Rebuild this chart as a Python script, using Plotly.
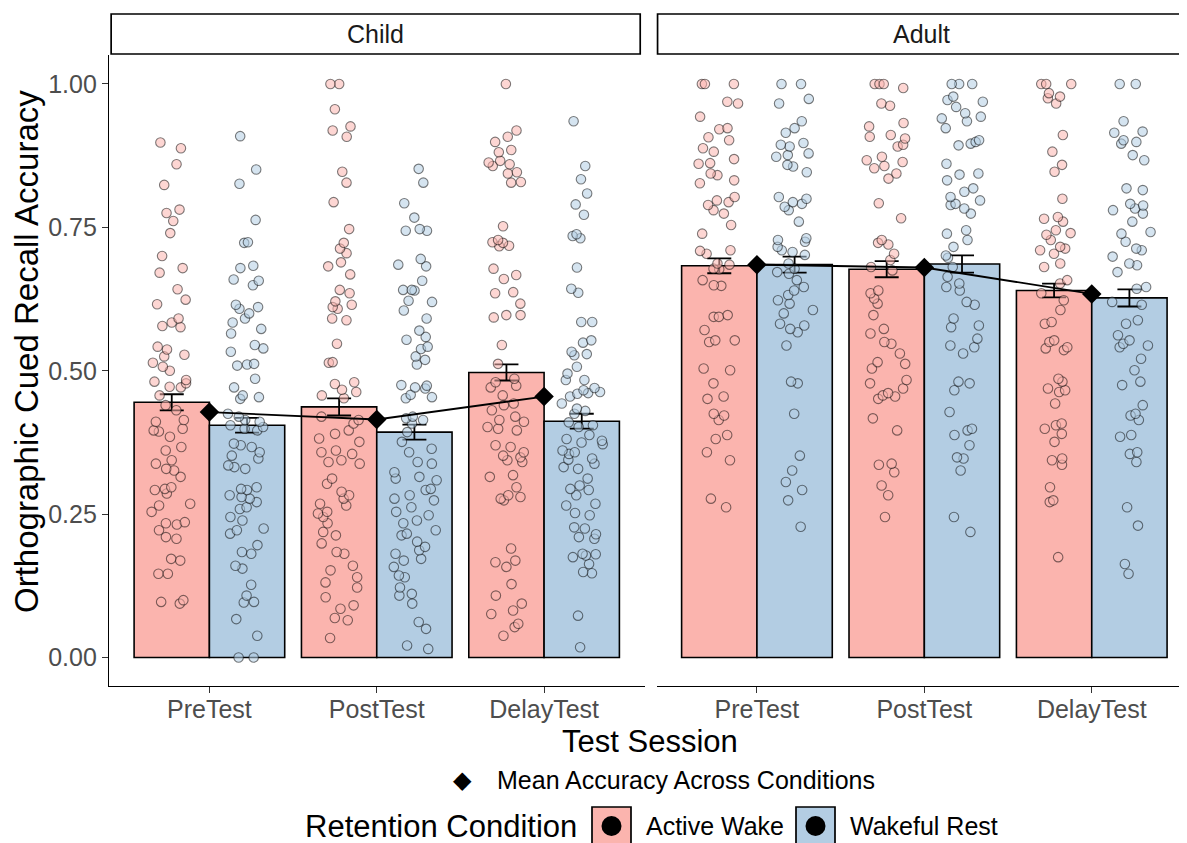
import plotly.graph_objects as go

# ---------------- data ----------------
sessions = ["PreTest", "PostTest", "DelayTest"]
tick_vals = [0.0, 0.25, 0.5, 0.75, 1.0]
tick_text = ["0.00", "0.25", "0.50", "0.75", "1.00"]

child_aw_mean = [0.445, 0.437, 0.497]
child_wr_mean = [0.405, 0.393, 0.412]
adult_aw_mean = [0.683, 0.677, 0.640]
adult_wr_mean = [0.685, 0.686, 0.627]

child_aw_se = [0.014, 0.015, 0.014]
child_wr_se = [0.013, 0.013, 0.013]
adult_aw_se = [0.013, 0.014, 0.012]
adult_wr_se = [0.014, 0.015, 0.015]

child_overall = [0.428, 0.415, 0.455]
adult_overall = [0.685, 0.680, 0.634]

child_pre_aw = [0.898, 0.888, 0.860, 0.824, 0.781, 0.775, 0.761, 0.740, 0.700, 0.679, 0.671, 0.642, 0.624,
                0.616, 0.591, 0.584, 0.578, 0.576, 0.542, 0.537, 0.528, 0.525, 0.514, 0.507, 0.500, 0.484,
                0.481, 0.478, 0.472, 0.471, 0.457, 0.440, 0.431, 0.414, 0.411, 0.399, 0.396, 0.394, 0.385,
                0.367, 0.361, 0.344, 0.338, 0.329, 0.326, 0.315, 0.297, 0.294, 0.292, 0.286, 0.268, 0.265,
                0.254, 0.236, 0.234, 0.232, 0.222, 0.210, 0.207, 0.172, 0.169, 0.146, 0.146, 0.100, 0.097, 0.094]
child_pre_wr = [0.909, 0.851, 0.826, 0.763, 0.724, 0.723, 0.683, 0.679, 0.659, 0.657, 0.649, 0.615, 0.611,
                0.608, 0.600, 0.591, 0.584, 0.573, 0.565, 0.545, 0.539, 0.533, 0.512, 0.511, 0.509, 0.486,
                0.471, 0.457, 0.454, 0.451, 0.425, 0.420, 0.414, 0.411, 0.405, 0.402, 0.399, 0.396, 0.373,
                0.370, 0.367, 0.358, 0.352, 0.347, 0.335, 0.332, 0.329, 0.297, 0.294, 0.292, 0.283, 0.280,
                0.277, 0.271, 0.262, 0.259, 0.245, 0.239, 0.225, 0.222, 0.216, 0.196, 0.184, 0.181, 0.160,
                0.155, 0.127, 0.108, 0.097, 0.096, 0.067, 0.038, 0.0, 0.0]
child_post_aw = [1.0, 1.0, 0.956, 0.926, 0.919, 0.908, 0.847, 0.828, 0.794, 0.747, 0.723, 0.713, 0.705,
                 0.689, 0.682, 0.668, 0.641, 0.635, 0.621, 0.615, 0.611, 0.608, 0.591, 0.588, 0.547, 0.515,
                 0.514, 0.480, 0.477, 0.467, 0.463, 0.457, 0.452, 0.420, 0.414, 0.408, 0.396, 0.390, 0.382,
                 0.376, 0.361, 0.358, 0.355, 0.344, 0.341, 0.338, 0.312, 0.303, 0.289, 0.283, 0.277, 0.268,
                 0.265, 0.254, 0.251, 0.245, 0.234, 0.219, 0.213, 0.199, 0.184, 0.181, 0.160, 0.152, 0.140,
                 0.131, 0.122, 0.105, 0.091, 0.085, 0.069, 0.065, 0.034]
child_post_wr = [0.852, 0.828, 0.792, 0.767, 0.747, 0.744, 0.744, 0.695, 0.685, 0.682, 0.657, 0.641, 0.641,
                 0.640, 0.622, 0.620, 0.605, 0.591, 0.570, 0.559, 0.554, 0.538, 0.542, 0.519, 0.525, 0.511,
                 0.471, 0.469, 0.474, 0.458, 0.475, 0.454, 0.452, 0.420, 0.417, 0.414, 0.408, 0.393, 0.376,
                 0.364, 0.358, 0.341, 0.338, 0.323, 0.315, 0.309, 0.312, 0.294, 0.292, 0.283, 0.277, 0.274,
                 0.262, 0.254, 0.248, 0.239, 0.234, 0.222, 0.216, 0.213, 0.202, 0.193, 0.187, 0.181, 0.172,
                 0.169, 0.158, 0.143, 0.140, 0.122, 0.111, 0.108, 0.094, 0.062, 0.050, 0.021, 0.015]
child_delay_aw = [1.0, 0.919, 0.908, 0.899, 0.885, 0.881, 0.866, 0.863, 0.860, 0.857, 0.846, 0.844, 0.829,
                  0.828, 0.752, 0.728, 0.724, 0.723, 0.718, 0.717, 0.678, 0.667, 0.660, 0.637, 0.635, 0.617,
                  0.597, 0.597, 0.593, 0.545, 0.512, 0.486, 0.480, 0.474, 0.471, 0.457, 0.443, 0.440, 0.431,
                  0.420, 0.414, 0.411, 0.402, 0.399, 0.396, 0.370, 0.367, 0.358, 0.352, 0.349, 0.344, 0.341,
                  0.318, 0.315, 0.297, 0.283, 0.280, 0.277, 0.274, 0.190, 0.169, 0.166, 0.158, 0.128, 0.108,
                  0.094, 0.082, 0.076, 0.059, 0.053, 0.038]
child_delay_wr = [0.935, 0.857, 0.834, 0.809, 0.790, 0.772, 0.738, 0.735, 0.731, 0.680, 0.643, 0.636, 0.585,
                  0.585, 0.553, 0.549, 0.533, 0.529, 0.527, 0.507, 0.495, 0.484, 0.484, 0.463, 0.461, 0.466,
                  0.460, 0.455, 0.443, 0.434, 0.430, 0.425, 0.405, 0.402, 0.388, 0.381, 0.378, 0.375, 0.361,
                  0.358, 0.355, 0.347, 0.338, 0.332, 0.329, 0.312, 0.294, 0.292, 0.283, 0.268, 0.265, 0.248,
                  0.227, 0.225, 0.210, 0.207, 0.181, 0.178, 0.163, 0.149, 0.147, 0.073, 0.018, 0.470, 0.410,
                  0.372, 0.345, 0.300, 0.252, 0.215, 0.180, 0.175]

adult_pre_aw = [1.0, 1.0, 1.0, 0.969, 0.966, 0.943, 0.923, 0.921, 0.907, 0.902, 0.888, 0.882, 0.869, 0.862,
                0.861, 0.844, 0.841, 0.832, 0.827, 0.803, 0.797, 0.794, 0.789, 0.780, 0.774, 0.754, 0.739,
                0.710, 0.709, 0.704, 0.687, 0.685, 0.678, 0.677, 0.658, 0.649, 0.648, 0.597, 0.594, 0.594,
                0.571, 0.553, 0.553, 0.550, 0.504, 0.501, 0.478, 0.455, 0.451, 0.425, 0.422, 0.414, 0.388,
                0.381, 0.358, 0.344, 0.277, 0.262]
adult_pre_wr = [1.0, 1.0, 0.974, 0.966, 0.935, 0.923, 0.915, 0.897, 0.894, 0.891, 0.879, 0.876, 0.873, 0.859,
                0.856, 0.846, 0.803, 0.800, 0.794, 0.791, 0.786, 0.780, 0.760, 0.731, 0.728, 0.725, 0.716,
                0.710, 0.707, 0.702, 0.687, 0.678, 0.672, 0.669, 0.658, 0.646, 0.640, 0.632, 0.623, 0.617,
                0.606, 0.600, 0.582, 0.579, 0.573, 0.567, 0.544, 0.481, 0.478, 0.425, 0.352, 0.326, 0.306,
                0.292, 0.274, 0.228]
adult_post_aw = [1.0, 1.0, 1.0, 0.993, 0.966, 0.962, 0.932, 0.926, 0.911, 0.908, 0.905, 0.894, 0.891, 0.873,
                 0.867, 0.864, 0.857, 0.853, 0.844, 0.835, 0.792, 0.766, 0.728, 0.723, 0.720, 0.704, 0.693,
                 0.681, 0.675, 0.640, 0.635, 0.626, 0.617, 0.597, 0.573, 0.565, 0.550, 0.547, 0.530, 0.515,
                 0.512, 0.504, 0.484, 0.478, 0.469, 0.461, 0.455, 0.457, 0.451, 0.417, 0.396, 0.338, 0.336,
                 0.323, 0.300, 0.283, 0.245]
adult_post_wr = [1.0, 1.0, 1.0, 0.978, 0.972, 0.969, 0.960, 0.949, 0.943, 0.940, 0.935, 0.923, 0.902, 0.899,
                 0.896, 0.893, 0.861, 0.844, 0.842, 0.832, 0.818, 0.812, 0.803, 0.797, 0.791, 0.789, 0.783,
                 0.774, 0.745, 0.739, 0.728, 0.716, 0.701, 0.697, 0.681, 0.664, 0.652, 0.646, 0.640, 0.620,
                 0.615, 0.591, 0.579, 0.576, 0.556, 0.544, 0.541, 0.530, 0.481, 0.478, 0.466, 0.428, 0.399,
                 0.396, 0.388, 0.370, 0.349, 0.347, 0.326, 0.245, 0.219]
adult_delay_aw = [1.0, 1.0, 1.0, 0.984, 0.978, 0.975, 0.966, 0.911, 0.882, 0.859, 0.847, 0.800, 0.768, 0.765,
                  0.760, 0.745, 0.740, 0.737, 0.728, 0.716, 0.713, 0.710, 0.704, 0.687, 0.681, 0.658, 0.652,
                  0.635, 0.623, 0.606, 0.585, 0.582, 0.553, 0.550, 0.541, 0.539, 0.536, 0.486, 0.481, 0.469,
                  0.466, 0.463, 0.443, 0.408, 0.405, 0.399, 0.390, 0.376, 0.347, 0.344, 0.336, 0.297, 0.274,
                  0.271, 0.175]
adult_delay_wr = [1.0, 1.0, 0.935, 0.917, 0.915, 0.902, 0.899, 0.896, 0.876, 0.867, 0.818, 0.815, 0.791, 0.788,
                  0.783, 0.780, 0.774, 0.760, 0.742, 0.739, 0.725, 0.713, 0.710, 0.699, 0.687, 0.684, 0.672,
                  0.646, 0.643, 0.620, 0.615, 0.588, 0.582, 0.562, 0.553, 0.547, 0.544, 0.541, 0.521, 0.501,
                  0.481, 0.475, 0.440, 0.425, 0.422, 0.414, 0.388, 0.385, 0.355, 0.358, 0.341, 0.262, 0.230,
                  0.163, 0.146]

# ---------------- styling ----------------
FONT = "Liberation Sans, Arial, Helvetica, sans-serif"
AW_FILL = "#FBB4AE"
WR_FILL = "#B3CDE3"
AW_PT = "rgba(251,180,174,0.55)"
WR_PT = "rgba(179,205,227,0.55)"
PT_EDGE = "rgba(0,0,0,0.5)"
SMALL = 25
BIG = 31

fig = go.Figure()


def long_form(pre, post, delay):
    xs = [sessions[0]] * len(pre) + [sessions[1]] * len(post) + [sessions[2]] * len(delay)
    return xs, list(pre) + list(post) + list(delay)


panels = [
    ("child", "x", "y", child_aw_mean, child_aw_se, child_wr_mean, child_wr_se, child_overall,
     (child_pre_aw, child_post_aw, child_delay_aw), (child_pre_wr, child_post_wr, child_delay_wr)),
    ("adult", "x2", "y2", adult_aw_mean, adult_aw_se, adult_wr_mean, adult_wr_se, adult_overall,
     (adult_pre_aw, adult_post_aw, adult_delay_aw), (adult_pre_wr, adult_post_wr, adult_delay_wr)),
]

for grp, xa, ya, awm, aws, wrm, wrs, ovr, awpts, wrpts in panels:
    for key, name, mean, se, fill in (("aw", "Active Wake", awm, aws, AW_FILL),
                                      ("wr", "Wakeful Rest", wrm, wrs, WR_FILL)):
        fig.add_trace(go.Bar(
            x=sessions, y=mean, name=name, xaxis=xa, yaxis=ya, showlegend=False,
            offsetgroup=key, alignmentgroup=grp,
            marker=dict(color=fill, line=dict(color="black", width=1.6)),
            error_y=dict(type="data", array=se, color="black", thickness=1.8, width=12),
        ))
    for key, name, pts, col in (("aw", "Active Wake", awpts, AW_PT), ("wr", "Wakeful Rest", wrpts, WR_PT)):
        xs, ys = long_form(*pts)
        fig.add_trace(go.Box(
            x=xs, y=ys, name=name, xaxis=xa, yaxis=ya, showlegend=False,
            offsetgroup=key, alignmentgroup=grp,
            boxpoints="all", jitter=0.62, pointpos=0, whiskerwidth=0,
            fillcolor="rgba(0,0,0,0)", line=dict(width=0, color="rgba(0,0,0,0)"),
            marker=dict(symbol="circle", size=9.5, color=col, line=dict(color=PT_EDGE, width=1.1)),
            hoveron="points",
        ))
    fig.add_trace(go.Scatter(
        x=sessions, y=ovr, mode="lines+markers", xaxis=xa, yaxis=ya, showlegend=False,
        name="Mean Accuracy Across Conditions",
        line=dict(color="black", width=1.8),
        marker=dict(symbol="diamond", size=15, color="black"),
    ))

# The page has an 8px body margin; figure is sized to fit the 1187x843 window.
W, H = 1179, 835


def px_x(s):
    return (s - 8) / W


def px_y(s):
    return (843 - s) / H


y_dom = [px_y(686.2), px_y(55.3)]

axis_common = dict(type="category", categoryorder="array", categoryarray=sessions,
                   showline=True, linecolor="black", linewidth=1.4, ticks="outside", ticklen=6,
                   tickcolor="#333333", tickwidth=1.3, showgrid=False, zeroline=False,
                   ticklabelstandoff=-5,
                   tickfont=dict(family=FONT, size=SMALL, color="#4D4D4D"))

fig.update_layout(
    width=W, height=H, margin=dict(l=0, r=0, t=0, b=0),
    paper_bgcolor="white", plot_bgcolor="white",
    barmode="group", bargap=0.1, bargroupgap=0,
    boxmode="group", boxgap=0.1, boxgroupgap=0,
    font=dict(family=FONT, color="black"),
    xaxis=dict(domain=[px_x(109), px_x(644.5)], range=[-0.6, 2.6], anchor="y", **axis_common),
    xaxis2=dict(domain=[px_x(656.5), 1.0], range=[-0.6, 2.569], anchor="y2", **axis_common),
    yaxis=dict(domain=y_dom, range=[-0.05, 1.05], anchor="x", tickvals=tick_vals, ticktext=tick_text,
               showline=True, linecolor="black", linewidth=1.4, ticks="outside", ticklen=6,
               tickcolor="#333333", tickwidth=1.3, showgrid=False, zeroline=False,
               tickfont=dict(family=FONT, size=SMALL, color="#4D4D4D")),
    yaxis2=dict(domain=y_dom, range=[-0.05, 1.05], anchor="x2", matches="y", showline=False,
                showticklabels=False, ticks="", showgrid=False, zeroline=False),
    hovermode=False,
)

shapes = []
annotations = []
# facet strips
for xr, label, x0, x1 in (("x domain", "Child", 0.004, 0.992), ("x2 domain", "Adult", 0.002, 1.01)):
    shapes.append(dict(type="rect", xref=xr, yref="paper", x0=x0, x1=x1,
                       y0=px_y(54), y1=px_y(14), line=dict(color="black", width=1.7), fillcolor="white"))
    annotations.append(dict(xref=xr, yref="paper", x=(x0 + min(x1, 1.0)) / 2 if label == "Child" else 0.5,
                            y=px_y(34), text=label, showarrow=False,
                            font=dict(family=FONT, size=SMALL, color="#1A1A1A"),
                            xanchor="center", yanchor="middle"))

# axis titles
annotations.append(dict(xref="paper", yref="paper", x=px_x(650), y=px_y(741), text="Test Session",
                        showarrow=False, font=dict(family=FONT, size=BIG, color="black"),
                        xanchor="center", yanchor="middle"))
annotations.append(dict(xref="paper", yref="paper", x=px_x(26), y=px_y(352),
                        text="Orthographic Cued Recall Accuracy", textangle=-90, showarrow=False,
                        font=dict(family=FONT, size=33, color="black"), xanchor="center", yanchor="middle"))

# legend: mean diamond
annotations.append(dict(xref="paper", yref="paper", x=px_x(462), y=px_y(780), text="◆", showarrow=False,
                        font=dict(family="DejaVu Sans", size=24, color="black"),
                        xanchor="center", yanchor="middle"))
annotations.append(dict(xref="paper", yref="paper", x=px_x(495), y=px_y(780),
                        text="Mean Accuracy Across Conditions", showarrow=False,
                        font=dict(family=FONT, size=SMALL, color="black"), xanchor="left", yanchor="middle"))
# legend: retention condition
annotations.append(dict(xref="paper", yref="paper", x=px_x(303), y=px_y(826), text="Retention Condition",
                        showarrow=False, font=dict(family=FONT, size=BIG, color="black"),
                        xanchor="left", yanchor="middle"))
for x0, fill, label in ((592, AW_FILL, "Active Wake"), (796, WR_FILL, "Wakeful Rest")):
    shapes.append(dict(type="rect", xref="paper", yref="paper", x0=px_x(x0), x1=px_x(x0 + 39),
                       y0=px_y(846), y1=px_y(807), line=dict(color="black", width=1.7), fillcolor=fill))
    cx = x0 + 19.5
    shapes.append(dict(type="circle", xref="paper", yref="paper", x0=px_x(cx - 10), x1=px_x(cx + 10),
                       y0=px_y(836), y1=px_y(816), line=dict(color="black", width=0), fillcolor="black"))
    annotations.append(dict(xref="paper", yref="paper", x=px_x(x0 + 52), y=px_y(826), text=label,
                            showarrow=False, font=dict(family=FONT, size=SMALL, color="black"),
                            xanchor="left", yanchor="middle"))

fig.update_layout(shapes=shapes, annotations=annotations)
fig.write_html("out.html")
